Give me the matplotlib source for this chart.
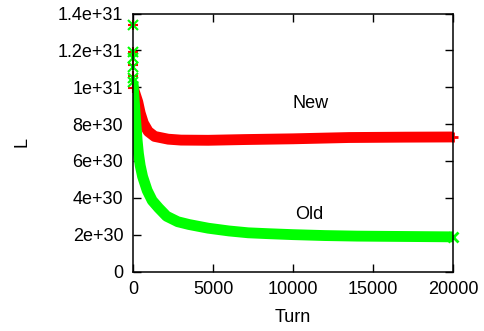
import matplotlib
matplotlib.use("Agg")
import matplotlib.pyplot as plt

plt.rcParams['font.family'] = ['Liberation Sans', 'DejaVu Sans']
plt.rcParams['font.size'] = 13

# Courbe "New" (rouge)
turn_new = [0, 150, 300, 450, 650, 950, 1350, 2200, 3000, 4700, 7000, 10000, 13500, 17000, 20000]
L_new = [1.0e31, 9.6e30, 9.2e30, 8.6e30, 8.05e30, 7.6e30, 7.33e30, 7.18e30, 7.13e30, 7.12e30,
         7.16e30, 7.2e30, 7.27e30, 7.29e30, 7.3e30]

# Courbe "Old" (verte)
turn_old = [0, 40, 150, 260, 340, 450, 600, 885, 1200, 1600, 2100, 2800, 3500, 4700, 6000,
            7200, 8500, 10000, 12000, 14000, 17000, 20000]
L_old = [1.03e31, 9.7e30, 8.4e30, 7.1e30, 6.4e30, 5.75e30, 5.15e30, 4.4e30, 3.85e30, 3.45e30,
         3.0e30, 2.7e30, 2.55e30, 2.35e30, 2.2e30, 2.1e30, 2.05e30, 2.0e30, 1.95e30, 1.92e30,
         1.9e30, 1.88e30]

# Premiers tours (points isoles)
spike_turn_new = [5, 10, 15, 20, 25]
spike_L_new = [1.34e31, 1.19e31, 1.12e31, 1.06e31, 9.95e30]
spike_turn_old = [5, 10, 15, 20, 25, 30]
spike_L_old = [1.34e31, 1.19e31, 1.16e31, 1.11e31, 1.05e31, 1.03e31]

x_ticks = [0, 5000, 10000, 15000, 20000]
y_ticks = [0, 2e30, 4e30, 6e30, 8e30, 1e31, 1.2e31, 1.4e31]
y_tick_labels = ['0', '2e+30', '4e+30', '6e+30', '8e+30', '1e+31', '1.2e+31', '1.4e+31']

red = '#ff0000'
green = '#00ff00'

fig = plt.figure(figsize=(4.84, 3.31), dpi=100)
ax = fig.add_axes([133 / 484, 1 - 271.5 / 331, 320 / 484, 258 / 331])

ax.plot(turn_new, L_new, '-', color=red, lw=7.8, solid_capstyle='butt', solid_joinstyle='round')
ax.plot(turn_new[-1:], L_new[-1:], '+', color=red, ms=7, mew=2, clip_on=False)
ax.plot(spike_turn_new, spike_L_new, '+', color=red, ms=7, mew=1.5, clip_on=False)

ax.plot(turn_old, L_old, '-', color=green, lw=7.8, solid_capstyle='butt', solid_joinstyle='round')
ax.plot(turn_old[-1:], L_old[-1:], 'x', color=green, ms=6.5, mew=2, clip_on=False)
ax.plot(spike_turn_old, spike_L_old, 'x', color=green, ms=7, mew=1.5, clip_on=False)

ax.text(11125, 9.09e30, 'New', ha='center', va='center')
ax.text(11000, 3.07e30, 'Old', ha='center', va='center')

ax.set_xlim(0, 20000)
ax.set_ylim(0, 1.4e31)
ax.set_xticks(x_ticks)
ax.set_xticklabels([str(t) for t in x_ticks])
ax.set_yticks(y_ticks)
ax.set_yticklabels(y_tick_labels)
ax.tick_params(direction='in', top=True, right=True, length=6, width=1, pad=7)
for s in ax.spines.values():
    s.set_linewidth(1.1)

fig.text(22 / 484, 1 - 142 / 331, 'L', rotation=90, ha='center', va='center')
fig.text(293 / 484, 1 - 318 / 331, 'Turn', ha='center', va='center')

fig.savefig('out.png', dpi=100)
